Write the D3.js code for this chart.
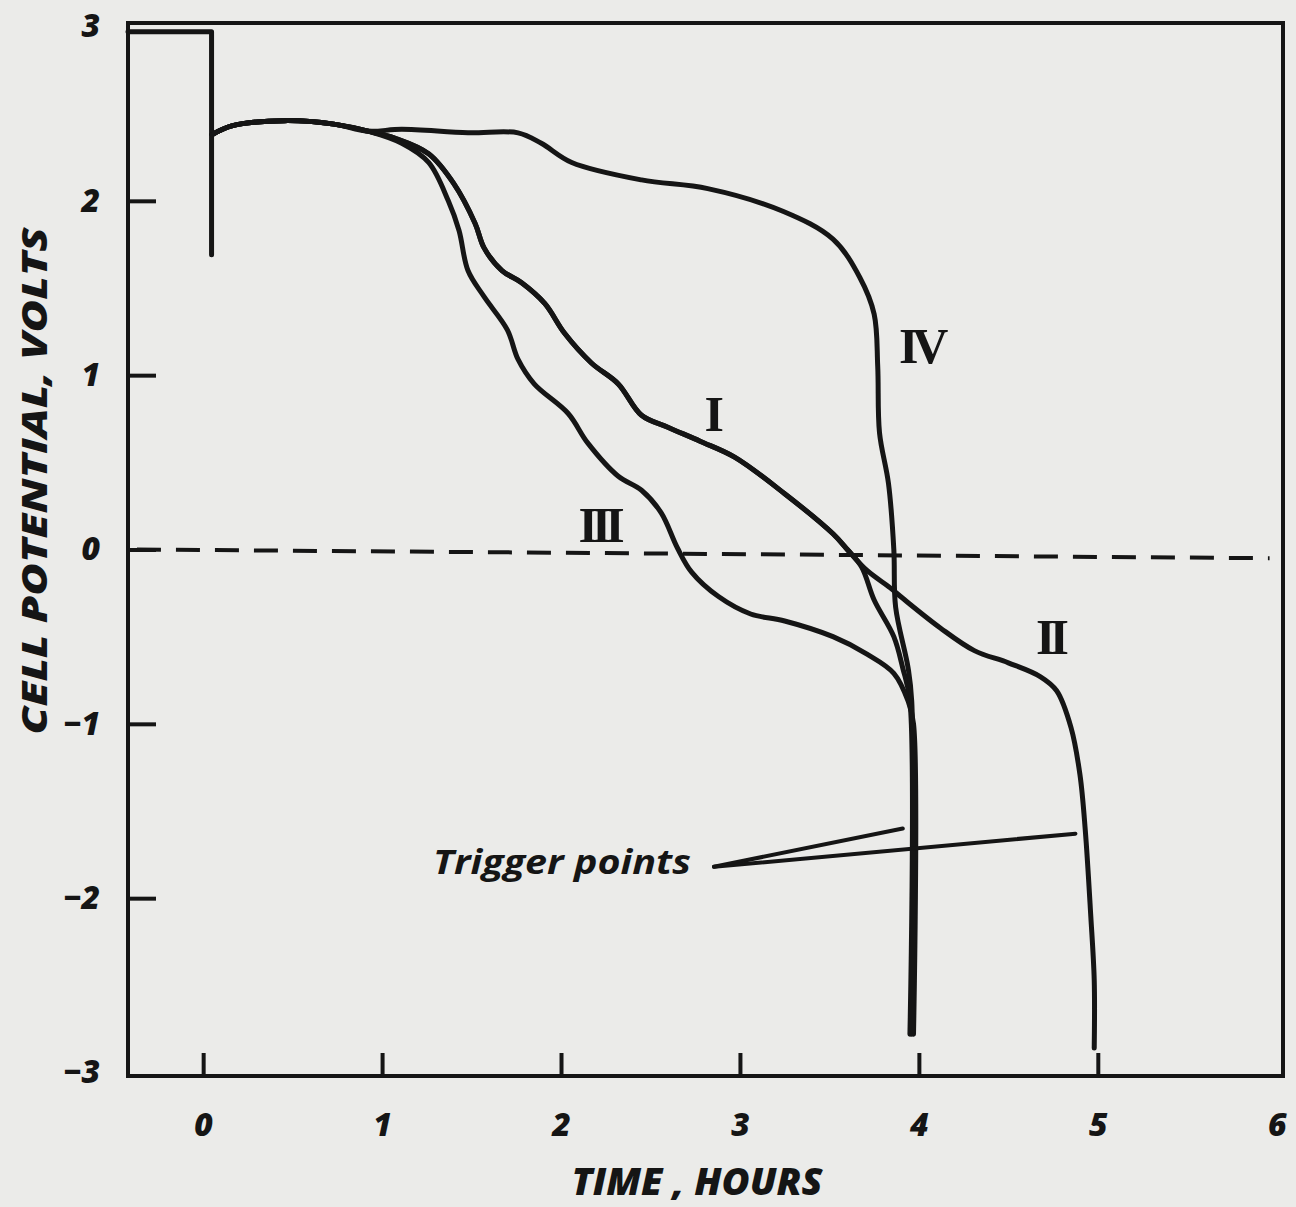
<!DOCTYPE html>
<html lang="en">
<head>
  <meta charset="utf-8"/>
  <title>Cell potential vs time</title>
  <style>
    html, body { margin: 0; padding: 0; background: #ebebe9; }
    svg { display: block; }
    .tick text { font-family: "Open Sans", sans-serif; font-style: italic; font-weight: 800; font-size: 32px; fill: #151515; }
    .tick line { stroke: #151515; stroke-width: 4; }
  </style>
</head>
<body>

<div id="chart"></div>

<script src="https://cdn.jsdelivr.net/npm/d3@7/dist/d3.min.js"></script>
<script>

  // readings: [time in hours, cell potential in volts]
  let startStep = [[-0.42, 2.97], [0.047, 2.97], [0.047, 1.69]];
  let commonStart = [[0.05, 2.38], [0.16, 2.43], [0.455, 2.46], [0.73, 2.44], [0.92, 2.40]];

  let curveI = commonStart.concat([
    [1.07, 2.36], [1.26, 2.27], [1.40, 2.10], [1.52, 1.87], [1.57, 1.73], [1.67, 1.60],
    [1.78, 1.53], [1.91, 1.41], [2.02, 1.24], [2.17, 1.07], [2.32, 0.95], [2.45, 0.77],
    [2.60, 0.70], [2.78, 0.62], [2.97, 0.53], [3.25, 0.32], [3.52, 0.09], [3.60, 0.0],
    [3.68, -0.10], [3.75, -0.29], [3.86, -0.50], [3.91, -0.68], [3.95, -0.87], [3.95, -2.78]
  ]);

  let curveII = commonStart.concat([
    [1.07, 2.36], [1.26, 2.27], [1.40, 2.10], [1.52, 1.87], [1.57, 1.73], [1.67, 1.60],
    [1.78, 1.53], [1.91, 1.41], [2.02, 1.24], [2.17, 1.07], [2.32, 0.95], [2.45, 0.77],
    [2.60, 0.70], [2.78, 0.62], [2.97, 0.53], [3.25, 0.32], [3.52, 0.09], [3.60, 0.0],
    [3.71, -0.12], [3.84, -0.22], [3.91, -0.28], [4.12, -0.45], [4.31, -0.58], [4.50, -0.65],
    [4.68, -0.73], [4.77, -0.81], [4.85, -1.02], [4.90, -1.29], [4.93, -1.61], [4.96, -2.09],
    [4.98, -2.47], [4.98, -2.86]
  ]);

  let curveIII = commonStart.concat([
    [1.11, 2.33], [1.26, 2.22], [1.37, 2.00], [1.43, 1.83], [1.48, 1.60], [1.57, 1.45],
    [1.70, 1.26], [1.76, 1.09], [1.85, 0.95], [2.04, 0.78], [2.15, 0.61], [2.32, 0.42],
    [2.45, 0.34], [2.56, 0.21], [2.65, 0.01], [2.73, -0.13], [2.88, -0.27], [3.06, -0.37],
    [3.25, -0.41], [3.52, -0.50], [3.71, -0.60], [3.86, -0.71], [3.94, -0.87], [3.97, -1.0],
    [3.97, -2.78]
  ]);

  let curveIV = commonStart.concat([
    [1.11, 2.41], [1.48, 2.39], [1.76, 2.39], [1.89, 2.33], [2.06, 2.22], [2.45, 2.12],
    [2.82, 2.07], [3.24, 1.94], [3.52, 1.78], [3.67, 1.56], [3.75, 1.35], [3.77, 1.05],
    [3.78, 0.67], [3.83, 0.38], [3.86, 0.0], [3.87, -0.33], [3.94, -0.68], [3.96, -0.87],
    [3.96, -2.78]
  ]);

  let zeroLine = [[-0.37, 0.0], [5.96, -0.05]];

  let curveNames = ['I', 'II', 'III', 'IV'];
  let curveLabelAt = [[2.84, 0.78], [4.73, -0.50], [2.21, 0.14], [4.01, 1.17]];

  let triggerText = 'Trigger points';
  let triggerFrom = [2.855, -1.82];
  let triggerTo = [[3.91, -1.60], [4.875, -1.63]];

  let xTicks = [0, 1, 2, 3, 4, 5];
  let xTickLabels = [0, 1, 2, 3, 4, 5, 6];
  let yTicks = [-2, -1, 0, 1, 2];
  let yTickLabels = [-3, -2, -1, 0, 1, 2, 3];

  let xTitle = 'TIME , HOURS';
  let yTitle = 'CELL POTENTIAL, VOLTS';

  let width = 1296, height = 1207;
  let ink = '#151515';

  let svg = d3.select('#chart')
    .append('svg')
    .attr('width', width)
    .attr('height', height);

  let x = d3.scaleLinear().domain([-0.42, 6.035]).range([128, 1283]);
  let y = d3.scaleLinear().domain([-3.02, 3.02]).range([1076, 23]);

  // tick marks (inward) and their labels as separate axes
  svg.append('g')
    .attr('transform', `translate(0,${y(-3.02)})`)
    .call(d3.axisBottom(x).tickValues(xTicks).tickSize(-23).tickFormat(''))
    .call(g => g.select('.domain').remove());

  svg.append('g')
    .attr('transform', `translate(0,${y(-3.02)})`)
    .call(d3.axisBottom(x).tickValues(xTickLabels).tickSize(0).tickPadding(37).tickFormat(d3.format('d')))
    .call(g => g.select('.domain').remove());

  svg.append('g')
    .attr('transform', `translate(${x(-0.42)},0)`)
    .call(d3.axisLeft(y).tickValues(yTicks).tickSize(-28).tickFormat(''))
    .call(g => g.select('.domain').remove());

  svg.append('g')
    .attr('transform', `translate(${x(-0.42)},0)`)
    .call(d3.axisLeft(y).tickValues(yTickLabels).tickSize(0).tickPadding(28).tickFormat(d3.format('d')))
    .call(g => g.select('.domain').remove());

  // frame
  svg.append('rect')
    .attr('x', x(-0.42))
    .attr('y', y(3.02))
    .attr('width', x(6.035) - x(-0.42))
    .attr('height', y(-3.02) - y(3.02))
    .attr('fill', 'none')
    .attr('stroke', ink)
    .attr('stroke-width', 4);

  let straight = d3.line().x(d => x(d[0])).y(d => y(d[1]));
  let smooth = d3.line().x(d => x(d[0])).y(d => y(d[1])).curve(d3.curveCatmullRom.alpha(0.5));

  svg.append('path')
    .attr('d', straight(zeroLine))
    .attr('fill', 'none')
    .attr('stroke', ink)
    .attr('stroke-width', 4)
    .attr('stroke-dasharray', '24 15');

  svg.append('path')
    .attr('d', straight(startStep))
    .attr('fill', 'none')
    .attr('stroke', ink)
    .attr('stroke-width', 5)
    .attr('stroke-linecap', 'round')
    .attr('stroke-linejoin', 'round');

  svg.selectAll('path.curve')
    .data([curveI, curveII, curveIII, curveIV])
    .enter()
    .append('path')
    .attr('class', 'curve')
    .attr('d', d => smooth(d))
    .attr('fill', 'none')
    .attr('stroke', ink)
    .attr('stroke-width', 5)
    .attr('stroke-linecap', 'round')
    .attr('stroke-linejoin', 'round');

  // roman numeral curve labels
  svg.selectAll('text.curve-label')
    .data(curveNames)
    .enter()
    .append('text')
    .attr('class', 'curve-label')
    .attr('x', (d, i) => x(curveLabelAt[i][0]))
    .attr('y', (d, i) => y(curveLabelAt[i][1]))
    .attr('text-anchor', 'middle')
    .attr('dominant-baseline', 'central')
    .attr('font-family', '"Liberation Serif", serif')
    .attr('font-weight', 700)
    .attr('font-size', 50)
    .attr('letter-spacing', -6)
    .attr('fill', ink)
    .text(d => d);

  // trigger points annotation
  svg.selectAll('path.trigger')
    .data(triggerTo)
    .enter()
    .append('path')
    .attr('class', 'trigger')
    .attr('d', d => straight([triggerFrom, d]))
    .attr('fill', 'none')
    .attr('stroke', ink)
    .attr('stroke-width', 4)
    .attr('stroke-linecap', 'round');

  svg.append('text')
    .attr('x', x(triggerFrom[0]) - 23)
    .attr('y', y(triggerFrom[1]) + 7)
    .attr('text-anchor', 'end')
    .attr('font-family', '"Open Sans", sans-serif')
    .attr('font-style', 'italic')
    .attr('font-weight', 700)
    .attr('font-size', 34)
    .attr('textLength', 258)
    .attr('lengthAdjust', 'spacingAndGlyphs')
    .attr('fill', ink)
    .text(triggerText);

  // axis titles
  svg.append('text')
    .attr('x', 697)
    .attr('y', 1195)
    .attr('text-anchor', 'middle')
    .attr('font-family', '"Open Sans", sans-serif')
    .attr('font-style', 'italic')
    .attr('font-weight', 800)
    .attr('font-size', 37)
    .attr('textLength', 251)
    .attr('lengthAdjust', 'spacingAndGlyphs')
    .attr('fill', ink)
    .text(xTitle);

  svg.append('text')
    .attr('transform', 'translate(47,481) rotate(-90)')
    .attr('text-anchor', 'middle')
    .attr('font-family', '"Open Sans", sans-serif')
    .attr('font-style', 'italic')
    .attr('font-weight', 800)
    .attr('font-size', 36)
    .attr('textLength', 507)
    .attr('lengthAdjust', 'spacingAndGlyphs')
    .attr('fill', ink)
    .text(yTitle);

</script>

</body>
</html>
